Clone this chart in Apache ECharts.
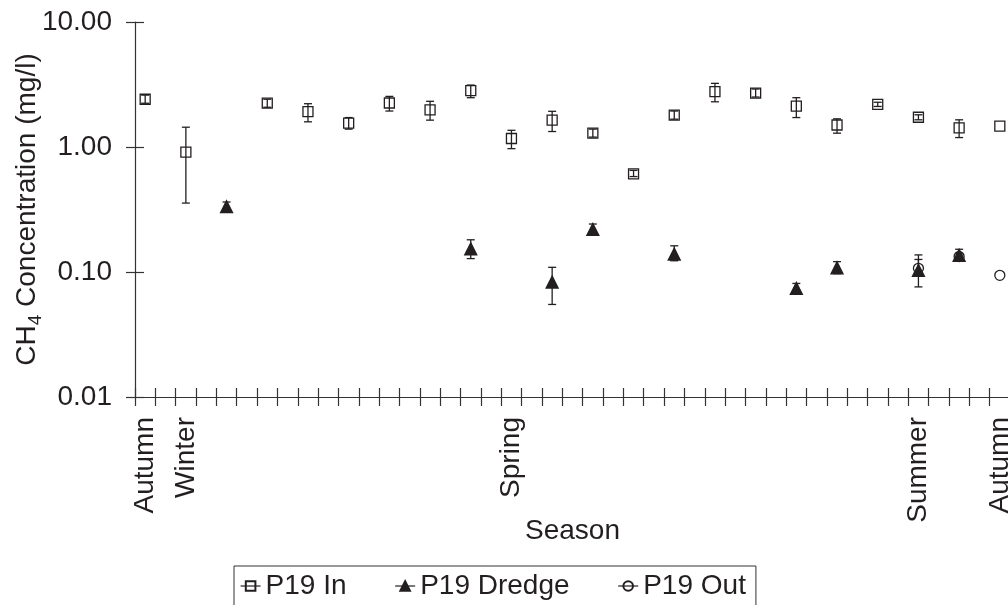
<!DOCTYPE html>
<html>
<head>
    <meta charset="utf-8">
    <title>CH4 concentration by season</title>
    <script src="https://cdn.jsdelivr.net/npm/echarts@6.0.0/dist/echarts.min.js"></script>
    <style>
        html, body { margin: 0; padding: 0; background: #fff; }
        #main { width: 1008px; height: 605px; }
    </style>
</head>
<body>
    <div id="main"></div>
    <script>
        // weekly sampling slots on the x axis
        const weeks = [1, 2, 3, 4, 5, 6, 7, 8, 9, 10, 11, 12, 13, 14, 15, 16, 17, 18, 19, 20, 21, 22,
                       23, 24, 25, 26, 27, 28, 29, 30, 31, 32, 33, 34, 35, 36, 37, 38, 39, 40, 41, 42, 43];
        // season tick labels (slot index -> text)
        const seasonIdx = [0, 2, 18, 38, 42];
        const seasonNames = ['Autumn', 'Winter', 'Spring', 'Summer', 'Autumn'];

        // P19 In
        const inIdx  = [0, 2, 6, 8, 10, 12, 14, 16, 18, 20, 22, 24, 26, 28, 30, 32, 34, 36, 38, 40, 42];
        const inVal  = [2.41, 0.91, 2.24, 1.92, 1.55, 2.25, 1.98, 2.82, 1.17, 1.64, 1.29, 0.61, 1.80, 2.77, 2.70, 2.12, 1.50, 2.19, 1.73, 1.42, 1.47];
        const inLow  = [2.24, 0.356, 2.08, 1.59, 1.39, 1.94, 1.64, 2.48, 0.97, 1.33, 1.20, 0.58, 1.67, 2.30, 2.51, 1.72, 1.29, 2.11, 1.65, 1.19, null];
        const inHigh = [2.60, 1.44, 2.41, 2.22, 1.72, 2.54, 2.32, 3.13, 1.36, 1.93, 1.39, 0.65, 1.94, 3.23, 2.91, 2.48, 1.68, 2.28, 1.81, 1.65, null];

        // P19 Dredge
        const drIdx  = [4, 16, 20, 22, 26, 32, 34, 38, 40];
        const drVal  = [0.333, 0.153, 0.083, 0.219, 0.139, 0.074, 0.108, 0.103, 0.136];
        const drLow  = [0.31, 0.128, 0.055, 0.205, 0.123, 0.069, 0.097, 0.076, 0.125];
        const drHigh = [0.363, 0.181, 0.109, 0.242, 0.162, 0.081, 0.121, 0.137, 0.152];

        // P19 Out
        const outIdx  = [38, 40, 42];
        const outVal  = [0.107, 0.133, 0.094];
        const outLow  = [0.097, 0.127, null];
        const outHigh = [0.126, 0.140, null];

        const ink = '#231f20';
        const axisColor = '#333';
        const font = 'Liberation Sans, Arial, sans-serif';

        const chart = echarts.init(document.getElementById('main'));

        function points(idx, val) {
            return idx.map((x, i) => [x, val[i]]);
        }
        function bars(idx, low, high) {
            const out = [];
            idx.forEach((x, i) => {
                if (low[i] != null && high[i] != null) out.push([x, low[i], high[i]]);
            });
            return out;
        }

        // vertical error bar with caps
        function renderBar(params, api) {
            const x = api.value(0);
            const lo = api.coord([x, api.value(1)]);
            const hi = api.coord([x, api.value(2)]);
            const cap = 4;
            const style = { stroke: ink, lineWidth: 1.3 };
            return {
                type: 'group',
                children: [
                    { type: 'line', shape: { x1: lo[0], y1: lo[1], x2: hi[0], y2: hi[1] }, style: style },
                    { type: 'line', shape: { x1: lo[0] - cap, y1: lo[1], x2: lo[0] + cap, y2: lo[1] }, style: style },
                    { type: 'line', shape: { x1: hi[0] - cap, y1: hi[1], x2: hi[0] + cap, y2: hi[1] }, style: style }
                ]
            };
        }

        function markerSeries(name, data, symbol, size, fill) {
            return {
                name: name,
                type: 'line',
                xAxisIndex: 0,
                yAxisIndex: 0,
                data: data,
                symbol: symbol,
                symbolSize: size,
                showSymbol: true,
                showAllSymbol: true,
                lineStyle: { width: 0, opacity: 0 },
                itemStyle: { color: fill, borderColor: ink, borderWidth: 1.3 },
                z: 5
            };
        }

        function barSeries(data) {
            return {
                type: 'custom',
                xAxisIndex: 0,
                yAxisIndex: 0,
                renderItem: renderBar,
                data: data,
                silent: true,
                z: 3
            };
        }

        const tickStyle = { color: axisColor, width: 1.2 };

        const option = {
            animation: false,
            textStyle: { fontFamily: font, color: ink },
            grid: { left: 135, right: -2, top: 22, bottom: 208, containLabel: false, outerBoundsMode: 'none' },
            legend: {
                data: ['P19 In', 'P19 Dredge', 'P19 Out'],
                left: 234,
                top: 566,
                padding: [6, 10, 6, 6],
                itemGap: 48,
                itemWidth: 20,
                itemHeight: 12,
                borderColor: '#333',
                borderWidth: 1,
                textStyle: { fontSize: 28, color: ink, fontFamily: font },
                lineStyle: { color: ink, width: 1.2, opacity: 1, type: 'solid' }
            },
            xAxis: [{
                type: 'category',
                data: weeks,
                position: 'bottom',
                name: 'Season',
                nameLocation: 'middle',
                nameMoveOverlap: false,
                nameGap: 120,
                nameTextStyle: { fontSize: 28, color: ink, fontFamily: font },
                axisLine: { show: true, lineStyle: tickStyle },
                axisTick: { show: true, interval: 0, length: 9, lineStyle: tickStyle },
                axisLabel: {
                    interval: 0,
                    rotate: 90,
                    margin: 20,
                    fontSize: 28,
                    color: ink,
                    fontFamily: font,
                    formatter: function (v, i) {
                        const k = seasonIdx.indexOf(i);
                        return k >= 0 ? seasonNames[k] : '';
                    }
                },
                splitLine: { show: false }
            }, {
                // second copy only for the inner half of the crossing ticks
                type: 'category',
                data: weeks,
                position: 'bottom',
                offset: 0,
                axisLine: { show: false },
                axisTick: { show: true, interval: 0, inside: true, length: 9, lineStyle: tickStyle },
                axisLabel: { show: false },
                splitLine: { show: false }
            }],
            yAxis: [{
                type: 'log',
                logBase: 10,
                min: 0.01,
                max: 10,
                position: 'left',
                name: '{a|CH}{s|4}{a| Concentration (mg/l)}',
                nameLocation: 'middle',
                nameMoveOverlap: false,
                nameRotate: 90,
                nameGap: 94,
                nameTextStyle: {
                    rich: {
                        a: { fontSize: 28, color: ink, fontFamily: font, lineHeight: 34, verticalAlign: 'bottom' },
                        s: { fontSize: 19, color: ink, fontFamily: font, lineHeight: 34, verticalAlign: 'bottom', padding: [0, 0, -4, 0] }
                    }
                },
                axisLine: { show: true, lineStyle: tickStyle },
                axisTick: { show: true, length: 9, lineStyle: tickStyle },
                axisLabel: {
                    margin: 23,
                    fontSize: 28,
                    color: ink,
                    fontFamily: font,
                    formatter: function (v) { return Number(v).toFixed(2); }
                },
                splitLine: { show: false }
            }, {
                type: 'log',
                logBase: 10,
                min: 0.01,
                max: 10,
                position: 'left',
                offset: 0,
                axisLine: { show: false },
                axisTick: { show: true, inside: true, length: 9, lineStyle: tickStyle },
                axisLabel: { show: false },
                splitLine: { show: false }
            }],
            series: [
                barSeries(bars(inIdx, inLow, inHigh)),
                barSeries(bars(drIdx, drLow, drHigh)),
                barSeries(bars(outIdx, outLow, outHigh)),
                markerSeries('P19 In', points(inIdx, inVal), 'rect', 10, 'rgba(255,255,255,0)'),
                markerSeries('P19 Dredge', points(drIdx, drVal), 'triangle', 12, ink),
                markerSeries('P19 Out', points(outIdx, outVal), 'circle', 10, 'rgba(255,255,255,0)')
            ]
        };

        chart.setOption(option);
    </script>
</body>
</html>
